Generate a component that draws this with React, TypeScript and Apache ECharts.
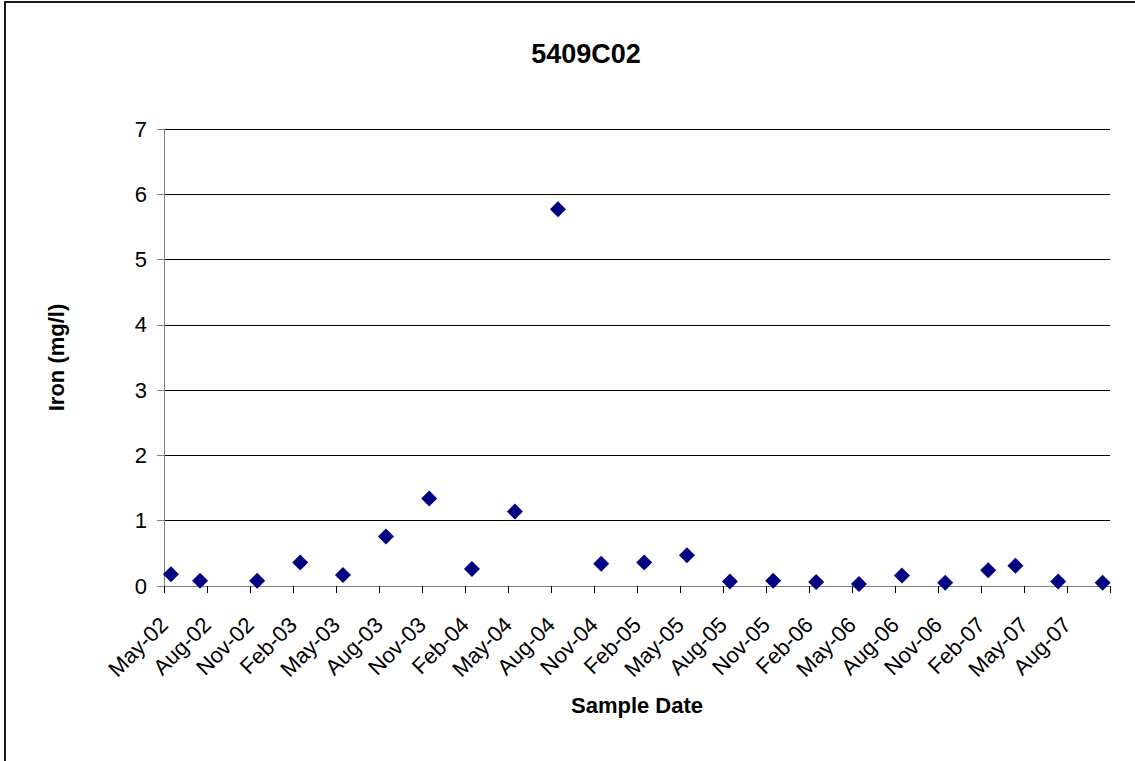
import React, { useEffect, useRef } from "react";
import * as echarts from "echarts";

const chartTitle = "5409C02";
const xAxisTitle = "Sample Date";
const yAxisTitle = "Iron (mg/l)";

// sample dates (YYYY-MM-DD) and iron concentrations (mg/l)
const sampleDates = [
  "2002-05-16", "2002-07-17", "2002-11-16", "2003-02-15", "2003-05-16",
  "2003-08-16", "2003-11-16", "2004-02-15", "2004-05-16", "2004-08-16",
  "2004-11-16", "2005-02-15", "2005-05-16", "2005-08-16", "2005-11-16",
  "2006-02-15", "2006-05-16", "2006-08-16", "2006-11-16", "2007-02-15",
  "2007-04-13", "2007-07-13", "2007-10-16",
];
const ironValues = [
  0.18, 0.08, 0.08, 0.36, 0.17,
  0.76, 1.34, 0.26, 1.14, 5.77,
  0.34, 0.36, 0.47, 0.07, 0.08,
  0.06, 0.03, 0.16, 0.05, 0.24,
  0.31, 0.07, 0.05,
];

// x tick labels every 3 months starting May-02
const tickLabels = [
  "May-02", "Aug-02", "Nov-02", "Feb-03", "May-03", "Aug-03", "Nov-03",
  "Feb-04", "May-04", "Aug-04", "Nov-04", "Feb-05", "May-05", "Aug-05",
  "Nov-05", "Feb-06", "May-06", "Aug-06", "Nov-06", "Feb-07", "May-07",
  "Aug-07",
];
const startYear = 2002;
const startMonth = 5;
const monthStep = 3;
const axisMaxMonths = 66;
const yMin = 0;
const yMax = 7;
const yStep = 1;

function monthsSinceStart(d: string): number {
  const [y, m, day] = d.split("-").map(Number);
  const dim = new Date(y, m, 0).getDate();
  return (y - startYear) * 12 + (m - startMonth) + (day - 1) / dim;
}

const FONT = "'Liberation Sans', Arial, Helvetica, sans-serif";

export default function App() {
  const ref = useRef<HTMLDivElement>(null);
  useEffect(() => {
    document.body.style.margin = "0";
    if (!ref.current) return;
    const chart = echarts.init(ref.current, null, { renderer: "svg" });
    const points = sampleDates.map((d, i) => [monthsSinceStart(d), ironValues[i]]);
    chart.setOption({
      animation: false,
      backgroundColor: "#ffffff",
      title: {
        text: chartTitle,
        left: 581,
        top: 35,
        textAlign: "center",
        textStyle: { fontFamily: FONT, fontWeight: "bold", fontSize: 27, color: "#000" },
      },
      graphic: [
        {
          type: "rect",
          shape: { x: 5, y: 2, width: 1150, height: 800 },
          style: { fill: "none", stroke: "#1a1a1a", lineWidth: 2 },
          silent: true,
        },
      ],
      grid: { left: 164, right: 25, top: 129, bottom: 175, containLabel: false },
      xAxis: {
        type: "value",
        min: 0,
        max: axisMaxMonths,
        interval: monthStep,
        name: xAxisTitle,
        nameLocation: "middle",
        nameGap: 108,
        nameTextStyle: { fontFamily: FONT, fontWeight: "bold", fontSize: 22, color: "#000" },
        axisLine: { show: true, lineStyle: { color: "#808080", width: 1 } },
        axisTick: { show: true, inside: false, length: 7, lineStyle: { color: "#000", width: 1 } },
        splitLine: { show: false },
        axisLabel: {
          rotate: 45,
          margin: 35,
          fontFamily: FONT,
          fontSize: 22,
          color: "#000",
          showMaxLabel: true,
          formatter: (v: number) => {
            const idx = Math.round(v / monthStep);
            return tickLabels[idx] ?? "";
          },
        },
      },
      yAxis: {
        type: "value",
        min: yMin,
        max: yMax,
        interval: yStep,
        name: yAxisTitle,
        nameLocation: "middle",
        nameGap: 97,
        nameRotate: 90,
        nameTextStyle: { fontFamily: FONT, fontWeight: "bold", fontSize: 22, color: "#000" },
        axisLine: { show: true, lineStyle: { color: "#808080", width: 1 } },
        axisTick: { show: true, inside: false, length: 7, lineStyle: { color: "#808080", width: 1 } },
        splitLine: { show: true, lineStyle: { color: "#000", width: 1 } },
        axisLabel: { margin: 17, fontFamily: FONT, fontSize: 22, color: "#000" },
      },
      series: [
        {
          type: "scatter",
          name: "Iron",
          data: points,
          symbol: "diamond",
          symbolSize: 16,
          itemStyle: { color: "#000080", opacity: 1 },
        },
      ],
    });
    return () => chart.dispose();
  }, []);
  return <div ref={ref} style={{ width: 1135, height: 761 }} />;
}
